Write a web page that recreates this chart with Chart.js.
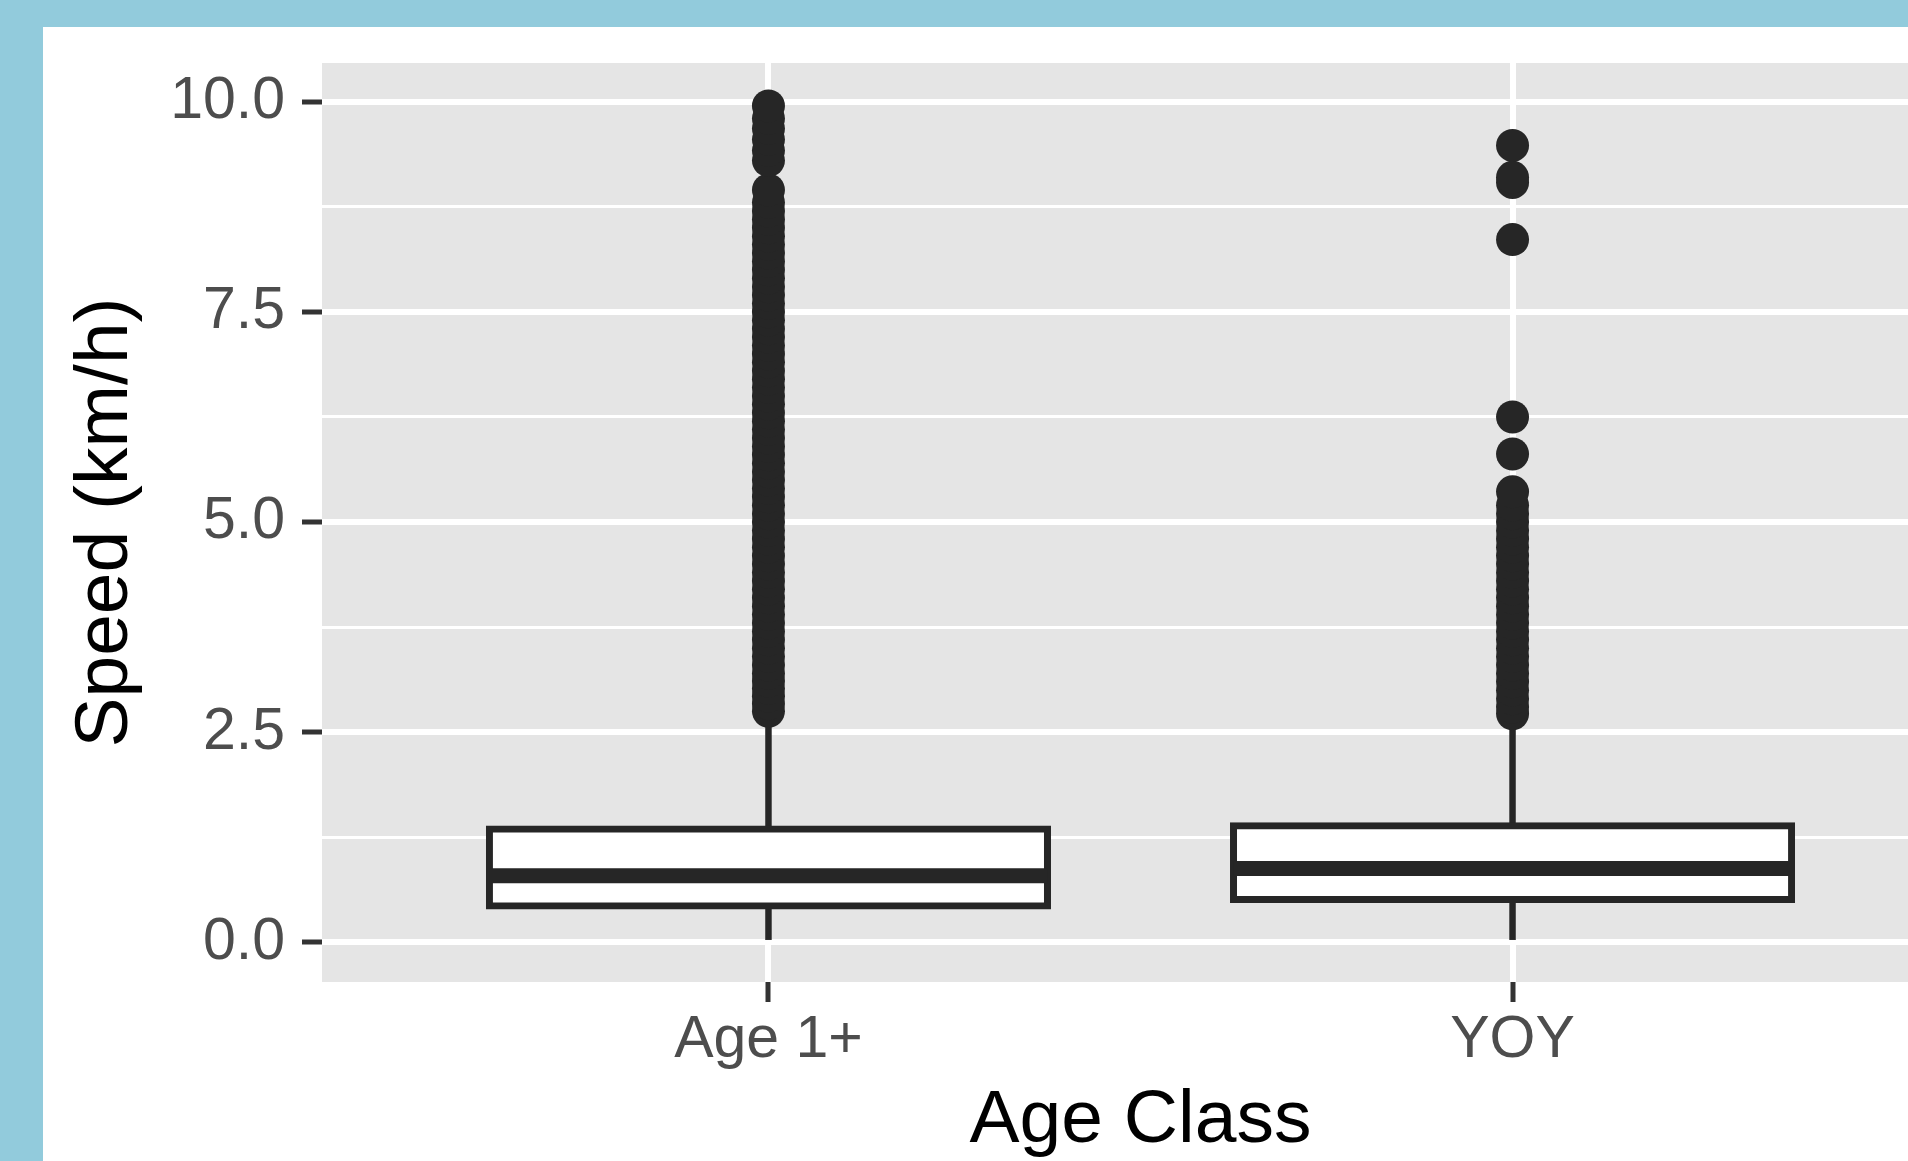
<!DOCTYPE html>
<html>
<head>
<meta charset="utf-8">
<script src="https://cdn.jsdelivr.net/npm/chart.js@4.4.1/dist/chart.umd.min.js"></script>
<style>
  html, body { margin: 0; padding: 0; overflow: hidden; background: #92CBDC; width: 1908px; height: 1161px; }
  #panel { position: absolute; left: 43px; top: 27px; width: 1900px; height: 1200px; background: #ffffff; }
  #c { position: absolute; left: 0; top: 0; }
</style>
</head>
<body>
<div id="panel"></div>
<canvas id="c" width="1959" height="1200"></canvas>
<script>
// ---- data ----
const categories = ['Age 1+', 'YOY'];
const whiskerLow  = [0.03, 0.03];
const q1          = [0.434, 0.511];
const median      = [0.793, 0.88];
const q3          = [1.35, 1.387];
const whiskerHigh = [2.72, 2.70];

const outliersAge1 = [
  2.75, 2.84, 2.93, 3.02, 3.11, 3.2, 3.3, 3.4, 3.5, 3.6, 3.7, 3.8, 3.9, 4.0,
  4.1, 4.2, 4.3, 4.4, 4.5, 4.6, 4.7, 4.8, 4.9, 5.0, 5.1, 5.2, 5.3, 5.4, 5.5,
  5.6, 5.7, 5.8, 5.9, 6.0, 6.1, 6.2, 6.3, 6.4, 6.5, 6.6, 6.7, 6.8, 6.9, 7.0,
  7.1, 7.2, 7.3, 7.4, 7.5, 7.6, 7.7, 7.8, 7.9, 8.0, 8.1, 8.2, 8.3, 8.4, 8.5,
  8.6, 8.7, 8.8, 8.95, 9.3, 9.42, 9.55, 9.68, 9.8, 9.95
];
const outliersYOY = [
  2.72, 2.8, 2.9, 3.0, 3.1, 3.2, 3.3, 3.4, 3.5, 3.6, 3.7, 3.8, 3.9, 4.0,
  4.1, 4.2, 4.3, 4.4, 4.5, 4.6, 4.7, 4.8, 4.9, 5.0, 5.1, 5.2, 5.36,
  5.81, 6.25, 8.36, 9.04, 9.1, 9.48
];
const outliers = [outliersAge1, outliersYOY];

const yMajorTicks = [0, 2.5, 5, 7.5, 10];
const yTickLabels = ['0.0', '2.5', '5.0', '7.5', '10.0'];
const yMinorTicks = [1.25, 3.75, 6.25, 8.75];

const xTitle = 'Age Class';
const yTitle = 'Speed (km/h)';

// ---- styling ----
const BOX_WIDTH = 0.75;          // ggplot box width in category units
const INK = '#262626';
const FONT = "'Liberation Sans', Arial, Helvetica, sans-serif";

const medianPoints = [];
categories.forEach((c, i) => {
  medianPoints.push({x: i - BOX_WIDTH / 2, y: median[i]});
  medianPoints.push({x: i + BOX_WIDTH / 2, y: median[i]});
  medianPoints.push({x: i + 0.5, y: null});
});

const outlierPoints = [];
outliers.forEach((arr, i) => arr.forEach(v => outlierPoints.push({x: i, y: v})));

const panelBg = {
  id: 'panelBg',
  beforeDraw(chart) {
    const {ctx, chartArea: a} = chart;
    ctx.save();
    ctx.fillStyle = '#E5E5E5';
    ctx.fillRect(a.left, a.top, a.right - a.left, a.bottom - a.top);
    ctx.restore();
  }
};

const isMajor = (v) => yMajorTicks.includes(v);

new Chart(document.getElementById('c'), {
  type: 'bar',
  data: {
    datasets: [
      {
        type: 'line',
        data: medianPoints,
        borderColor: INK,
        borderWidth: 15,
        borderCapStyle: 'butt',
        pointRadius: 0,
        spanGaps: false,
        tension: 0
      },
      {
        type: 'scatter',
        data: outlierPoints,
        backgroundColor: INK,
        borderWidth: 0,
        pointRadius: 16.5,
        pointHoverRadius: 16.5
      },
      {
        type: 'bar',
        data: categories.map((c, i) => ({x: i, y: [q1[i], q3[i]]})),
        backgroundColor: '#ffffff',
        borderColor: INK,
        borderWidth: 7,
        borderSkipped: false,
        inflateAmount: 3.5,
        grouped: false,
        categoryPercentage: 1,
        barPercentage: BOX_WIDTH
      },
      {
        type: 'bar',
        data: categories.map((c, i) => ({x: i, y: [q3[i], whiskerHigh[i]]})),
        backgroundColor: INK,
        borderWidth: 0,
        inflateAmount: 0,
        grouped: false,
        barThickness: 6.5
      },
      {
        type: 'bar',
        data: categories.map((c, i) => ({x: i, y: [whiskerLow[i], q1[i]]})),
        backgroundColor: INK,
        borderWidth: 0,
        inflateAmount: 0,
        grouped: false,
        barThickness: 6.5
      }
    ]
  },
  options: {
    responsive: false,
    devicePixelRatio: 1,
    animation: false,
    events: [],
    layout: { autoPadding: false, padding: { left: 43, top: 63, right: 0, bottom: 0 } },
    plugins: { legend: { display: false }, tooltip: { enabled: false } },
    scales: {
      x: {
        type: 'linear',
        bounds: 'data',
        offset: false,
        min: -0.6,
        max: 1.6,
        afterBuildTicks: (axis) => { axis.ticks = categories.map((c, i) => ({value: i})); },
        afterFit: (scale) => {
          scale.height = 1200 - 982;
          scale.paddingLeft = 0;
          scale.paddingRight = 0;
        },
        border: { display: false },
        grid: {
          offset: false,
          color: '#ffffff',
          lineWidth: 6,
          tickColor: '#333333',
          tickLength: 20,
          tickWidth: 5
        },
        ticks: {
          autoSkip: false,
          maxRotation: 0,
          minRotation: 0,
          padding: 3,
          color: '#4D4D4D',
          font: { family: FONT, size: 59 },
          callback: (v) => categories[v] !== undefined ? categories[v] : ''
        },
        title: {
          display: true,
          text: xTitle,
          color: '#000000',
          font: { family: FONT, size: 75 },
          padding: { top: 0, bottom: 34 }
        }
      },
      y: {
        type: 'linear',
        bounds: 'data',
        min: -0.47,
        max: 10.46,
        afterBuildTicks: (axis) => {
          axis.ticks = yMajorTicks.concat(yMinorTicks).sort((a, b) => a - b).map(v => ({value: v}));
        },
        afterFit: (scale) => {
          scale.width = 322 - 43;
          scale.paddingTop = 0;
          scale.paddingBottom = 0;
        },
        border: { display: false },
        grid: {
          color: '#ffffff',
          lineWidth: (ctx) => (ctx.tick && isMajor(ctx.tick.value)) ? 6 : 3,
          tickColor: (ctx) => (ctx.tick && isMajor(ctx.tick.value)) ? '#333333' : 'rgba(0,0,0,0)',
          tickLength: 20,
          tickWidth: 5
        },
        ticks: {
          autoSkip: false,
          padding: 17,
          color: '#4D4D4D',
          font: { family: FONT, size: 59 },
          callback: (v) => {
            const k = yMajorTicks.indexOf(v);
            return k >= 0 ? yTickLabels[k] : '';
          }
        },
        title: {
          display: true,
          text: yTitle,
          color: '#000000',
          font: { family: FONT, size: 75 },
          padding: { top: 18, bottom: 0 }
        }
      }
    }
  },
  plugins: [panelBg]
});
</script>
</body>
</html>
